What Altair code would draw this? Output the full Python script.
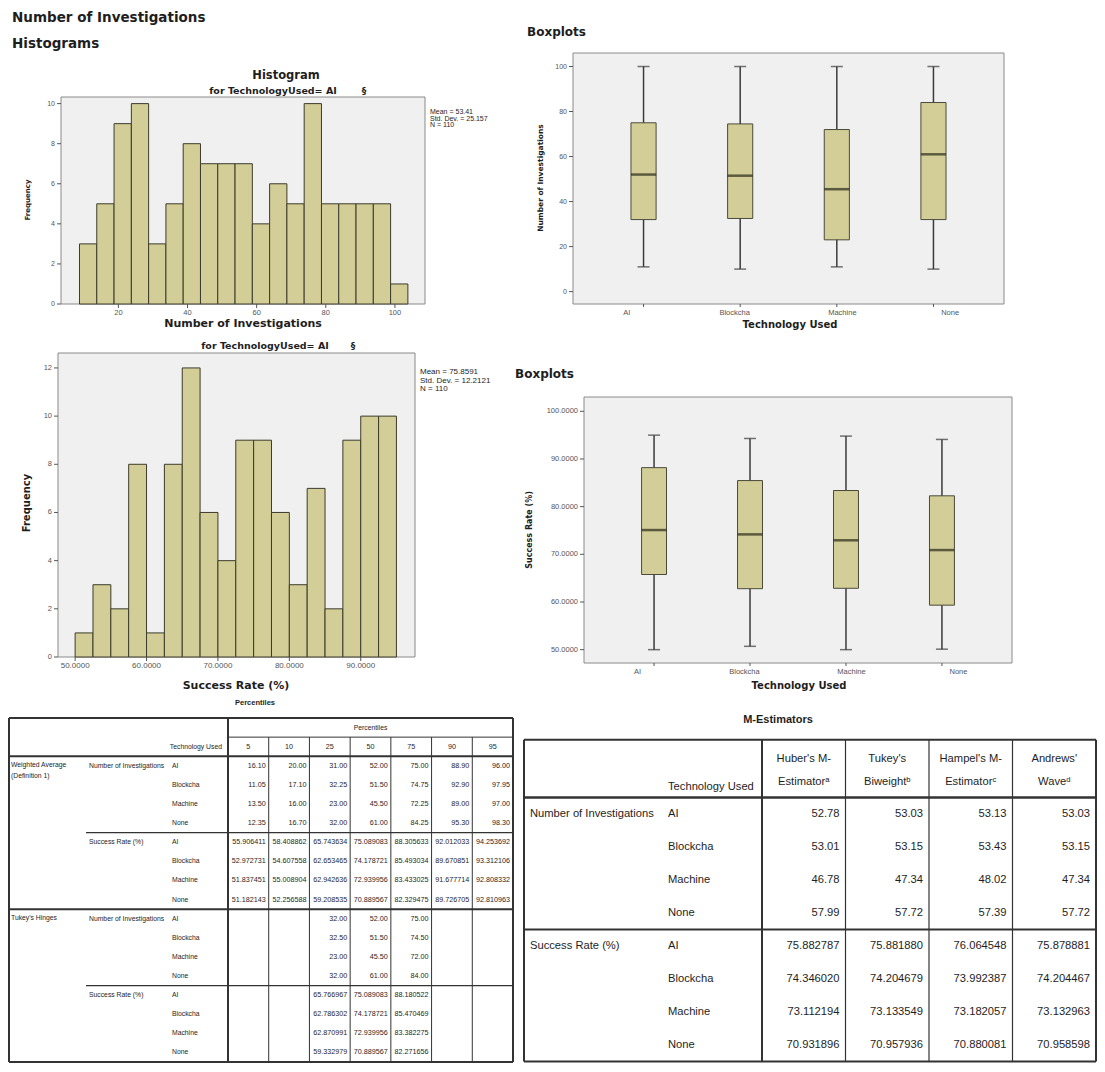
import altair as alt
import pandas as pd

# ------------------------------------------------------------------ data
TECH = ["AI", "Blockcha", "Machine", "None"]

H1_BIN_START = [8.75, 13.75, 18.75, 23.75, 28.75, 33.75, 38.75, 43.75, 48.75, 53.75,
                58.75, 63.75, 68.75, 73.75, 78.75, 83.75, 88.75, 93.75, 98.75]
H1_COUNT = [3, 5, 9, 10, 3, 5, 8, 7, 7, 7, 4, 6, 5, 10, 5, 5, 5, 5, 1]
H1_BIN_WIDTH = 5
H1_XTICKS = [20, 40, 60, 80, 100]
H1_XLABELS = ["20", "40", "60", "80", "100"]
H1_YTICKS = [0, 2, 4, 6, 8, 10]
H1_STATS = ["Mean = 53.41", "Std. Dev. = 25.157", "N = 110"]

H2_BIN_START = [50.0, 52.5, 55.0, 57.5, 60.0, 62.5, 65.0, 67.5, 70.0,
                72.5, 75.0, 77.5, 80.0, 82.5, 85.0, 87.5, 90.0, 92.5]
H2_COUNT = [1, 3, 2, 8, 1, 8, 12, 6, 4, 9, 9, 6, 3, 7, 2, 9, 10, 10]
H2_BIN_WIDTH = 2.5
H2_XTICKS = [50, 60, 70, 80, 90]
H2_XLABELS = ["50.0000", "60.0000", "70.0000", "80.0000", "90.0000"]
H2_YTICKS = [0, 2, 4, 6, 8, 10, 12]
H2_STATS = ["Mean = 75.8591", "Std. Dev. = 12.2121", "N = 110"]

B1_MIN = [11, 10, 11, 10]
B1_Q1 = [32.0, 32.5, 23.0, 32.0]
B1_MED = [52.0, 51.5, 45.5, 61.0]
B1_Q3 = [75.0, 74.5, 72.0, 84.0]
B1_MAX = [100, 100, 100, 100]
B1_YTICKS = [0, 20, 40, 60, 80, 100]
B1_YLABELS = ["0", "20", "40", "60", "80", "100"]

B2_MIN = [50.0, 50.7, 50.0, 50.1]
B2_Q1 = [65.766967, 62.786302, 62.870991, 59.332979]
B2_MED = [75.089083, 74.178721, 72.939956, 70.889567]
B2_Q3 = [88.180522, 85.470469, 83.382275, 82.271656]
B2_MAX = [95.0, 94.3, 94.8, 94.1]
B2_YTICKS = [50, 60, 70, 80, 90, 100]
B2_YLABELS = ["50.0000", "60.0000", "70.0000", "80.0000", "90.0000", "100.0000"]

PCT_HEAD = ["5", "10", "25", "50", "75", "90", "95"]
PCT_WA_NI = [
    [16.10, 20.00, 31.00, 52.00, 75.00, 88.90, 96.00],
    [11.05, 17.10, 32.25, 51.50, 74.75, 92.90, 97.95],
    [13.50, 16.00, 23.00, 45.50, 72.25, 89.00, 97.00],
    [12.35, 16.70, 32.00, 61.00, 84.25, 95.30, 98.30],
]
PCT_WA_SR = [
    [55.906411, 58.408862, 65.743634, 75.089083, 88.305633, 92.012033, 94.253692],
    [52.972731, 54.607558, 62.653465, 74.178721, 85.493034, 89.670851, 93.312106],
    [51.837451, 55.008904, 62.942636, 72.939956, 83.433025, 91.677714, 92.808332],
    [51.182143, 52.256588, 59.208535, 70.889567, 82.329475, 89.726705, 92.810963],
]
PCT_TH_NI = [
    [32.00, 52.00, 75.00],
    [32.50, 51.50, 74.50],
    [23.00, 45.50, 72.00],
    [32.00, 61.00, 84.00],
]
PCT_TH_SR = [
    [65.766967, 75.089083, 88.180522],
    [62.786302, 74.178721, 85.470469],
    [62.870991, 72.939956, 83.382275],
    [59.332979, 70.889567, 82.271656],
]

M_HEAD_1 = ["Huber's M-", "Tukey's", "Hampel's M-", "Andrews'"]
M_HEAD_2 = ["Estimator\u1d43", "Biweight\u1d47", "Estimator\u1d9c", "Wave\u1d48"]
M_NI = [
    [52.78, 53.03, 53.13, 53.03],
    [53.01, 53.15, 53.43, 53.15],
    [46.78, 47.34, 48.02, 47.34],
    [57.99, 57.72, 57.39, 57.72],
]
M_SR = [
    [75.882787, 75.881880, 76.064548, 75.878881],
    [74.346020, 74.204679, 73.992387, 74.204467],
    [73.112194, 73.133549, 73.182057, 73.132963],
    [70.931896, 70.957936, 70.880081, 70.958598],
]

# ------------------------------------------------------------------ style
OFF = 8
W, H = 1089, 1056
SANS = "Liberation Sans, Arial, sans-serif"
WIDE = "DejaVu Sans, Verdana, sans-serif"
TABLE = "Liberation Sans, Arial, sans-serif"
BAR_FILL = "#D3CE97"
BAR_EDGE = "#3C3B2C"
PLOT_BG = "#F0F0F0"
FRAME = "#8A8A8A"
INK = "#1E1E1E"
TICK_INK = "#555555"
LINE = "#333333"
PT_FS = 6.8    # left table label font size
PT_VFS = 7.2   # left table value font size
MT_FS = 11.2   # right table font size


def px(v):
    return v - OFF


def single(**kw):
    return pd.DataFrame({k: [v] for k, v in kw.items()})


def text_at(txt, x, y, size, font=SANS, weight="normal", align="left",
            baseline="middle", color=INK, angle=None):
    props = dict(align=align, baseline=baseline, font=font, fontSize=size,
                 fontWeight=weight, color=color)
    if angle is not None:
        props["angle"] = angle
    return alt.Chart(single(t=txt)).mark_text(**props).encode(
        text="t:N", x=alt.value(px(x)), y=alt.value(px(y)))


def histogram(starts, counts, width, xdom, ydom, box, xticks, xlabels, yticks,
              ytick_size, xtick_size, stats, stats_size, stats_lh, stats_dy):
    left, top, right, bottom = box
    xs = alt.Scale(domain=xdom, range=[px(left), px(right)], nice=False, zero=False)
    ys = alt.Scale(domain=ydom, range=[px(bottom), px(top)], nice=False, zero=False)

    def X(f):
        return alt.X(f, scale=xs, axis=None)

    def Y(f):
        return alt.Y(f, scale=ys, axis=None)

    out = []
    out.append(alt.Chart(single(xa=xdom[0], xb=xdom[1], ya=ydom[0], yb=ydom[1]))
               .mark_rect(fill=PLOT_BG, stroke=FRAME, strokeWidth=1)
               .encode(x=X("xa:Q"), x2="xb", y=Y("ya:Q"), y2="yb"))
    bd = pd.DataFrame({"lo": starts, "n": counts})
    bd["hi"] = bd["lo"] + width
    bd["base"] = 0
    out.append(alt.Chart(bd).mark_rect(fill=BAR_FILL, stroke=BAR_EDGE, strokeWidth=1)
               .encode(x=X("lo:Q"), x2="hi", y=Y("base:Q"), y2="n"))
    yt = pd.DataFrame({"v": yticks, "lab": [str(v) for v in yticks]})
    yt["xa"] = xdom[0]
    out.append(alt.Chart(yt).mark_rule(color=TICK_INK, strokeWidth=1, x2Offset=-4)
               .encode(x=X("xa:Q"), x2="xa", y=Y("v:Q")))
    out.append(alt.Chart(yt).mark_text(align="right", baseline="middle", dx=-6, font=SANS,
                                       fontSize=ytick_size, color=TICK_INK)
               .encode(x=X("xa:Q"), y=Y("v:Q"), text="lab:N"))
    xt = pd.DataFrame({"v": xticks, "lab": xlabels})
    xt["ya"] = ydom[0]
    out.append(alt.Chart(xt).mark_rule(color=TICK_INK, strokeWidth=1, y2Offset=4)
               .encode(x=X("v:Q"), y=Y("ya:Q"), y2="ya"))
    out.append(alt.Chart(xt).mark_text(align="center", baseline="top", dy=5, font=SANS,
                                       fontSize=xtick_size, color=TICK_INK)
               .encode(x=X("v:Q"), y=Y("ya:Q"), text="lab:N"))
    out.append(alt.Chart(single(xb=xdom[1], yb=ydom[1], t="\n".join(stats)))
               .mark_text(align="left", baseline="top", dx=5, dy=stats_dy, lineBreak="\n",
                          lineHeight=stats_lh, font=SANS, fontSize=stats_size, color=INK)
               .encode(x=X("xb:Q"), y=Y("yb:Q"), text="t:N"))
    return out


def boxplot(mins, q1, med, q3, maxs, ydom, box, yticks, ylabels, ytick_size, xtick_size):
    left, top, right, bottom = box
    xs = alt.Scale(domain=TECH, range=[px(left), px(right)], paddingInner=0.74, paddingOuter=0.6)
    ys = alt.Scale(domain=ydom, range=[px(bottom), px(top)], nice=False, zero=False)
    step = (right - left) / (4 - 0.74 + 2 * 0.6)
    bw = step * 0.26

    def X():
        return alt.X("tech:N", scale=xs, axis=None, sort=TECH)

    def Y(f):
        return alt.Y(f, scale=ys, axis=None)

    d = pd.DataFrame({"tech": TECH, "lo": mins, "q1": q1, "med": med, "q3": q3, "hi": maxs})
    d["ya"] = ydom[0]
    out = []
    out.append(alt.Chart(single(ya=ydom[0], yb=ydom[1]))
               .mark_rect(fill=PLOT_BG, stroke=FRAME, strokeWidth=1)
               .encode(x=alt.value(px(left)), x2=alt.value(px(right)), y=Y("ya:Q"), y2="yb"))
    out.append(alt.Chart(d).mark_rule(color="#3A3A3A", strokeWidth=1.5)
               .encode(x=X(), y=Y("lo:Q"), y2="hi"))
    out.append(alt.Chart(d).mark_bar(fill=BAR_FILL, stroke="#4A4A3A", strokeWidth=1)
               .encode(x=X(), y=Y("q1:Q"), y2="q3"))
    out.append(alt.Chart(d).mark_tick(color="#2A2A18", thickness=2.5, size=bw)
               .encode(x=X(), y=Y("med:Q")))
    out.append(alt.Chart(d).mark_tick(color="#3A3A3A", thickness=1.5, size=12)
               .encode(x=X(), y=Y("lo:Q")))
    out.append(alt.Chart(d).mark_tick(color="#3A3A3A", thickness=1.5, size=12)
               .encode(x=X(), y=Y("hi:Q")))
    out.append(alt.Chart(d).mark_rule(color=TICK_INK, strokeWidth=1, y2Offset=3)
               .encode(x=X(), y=Y("ya:Q"), y2="ya"))
    out.append(alt.Chart(d).mark_text(align="center", baseline="top", dy=5, font=SANS,
                                      fontSize=xtick_size, color=TICK_INK)
               .encode(x=X(), y=Y("ya:Q"), text="tech:N"))
    yt = pd.DataFrame({"v": yticks, "lab": ylabels})
    out.append(alt.Chart(yt).mark_rule(color=TICK_INK, strokeWidth=1)
               .encode(x=alt.value(px(left) - 4), x2=alt.value(px(left)), y=Y("v:Q")))
    out.append(alt.Chart(yt).mark_text(align="right", baseline="middle", font=SANS,
                                       fontSize=ytick_size, color=TICK_INK)
               .encode(x=alt.value(px(left) - 6), y=Y("v:Q"), text="lab:N"))
    return out


layers = []

# ---------------- top-left: histogram of Number of Investigations
layers.append(text_at("Number of Investigations", 12, 18, 13.5, font=WIDE, weight="bold"))
layers.append(text_at("Histograms", 12, 44, 13.5, font=WIDE, weight="bold"))
layers.append(text_at("Histogram", 286, 76, 11.5, font=WIDE, weight="bold", align="center"))
layers.append(text_at("for TechnologyUsed= AI", 273, 91, 9.5, font=WIDE, weight="bold", align="center"))
layers.append(text_at("\u00a7", 364, 91, 9, font=WIDE, weight="bold", align="center"))
layers += histogram(H1_BIN_START, H1_COUNT, H1_BIN_WIDTH, [3.4, 108.7], [0, 10.33],
                    (61, 97, 425, 304), H1_XTICKS, H1_XLABELS, H1_YTICKS, 7, 7.5,
                    H1_STATS, 7, 6.5, 11)
layers.append(text_at("Number of Investigations", 243, 324, 11, font=WIDE, weight="bold", align="center"))
layers.append(text_at("Frequency", 28, 200, 7, font=WIDE, weight="bold", align="center", angle=270))

# ---------------- middle-left: histogram of Success Rate
layers.append(text_at("for TechnologyUsed= AI", 265, 346, 9.5, font=WIDE, weight="bold", align="center"))
layers.append(text_at("\u00a7", 353, 346, 9, font=WIDE, weight="bold", align="center"))
layers += histogram(H2_BIN_START, H2_COUNT, H2_BIN_WIDTH, [47.6, 97.6], [0, 12.62],
                    (58, 353, 415, 657), H2_XTICKS, H2_XLABELS, H2_YTICKS, 7.5, 8,
                    H2_STATS, 8, 8.5, 15)
layers.append(text_at("Success Rate (%)", 236, 686, 11, font=WIDE, weight="bold", align="center"))
layers.append(text_at("Frequency", 27, 503, 10, font=WIDE, weight="bold", align="center", angle=270))

# ---------------- top-right: boxplots Number of Investigations
layers.append(text_at("Boxplots", 527, 32, 12, font=WIDE, weight="bold"))
layers += boxplot(B1_MIN, B1_Q1, B1_MED, B1_Q3, B1_MAX, [-5.5, 106], (573, 53, 1004, 304),
                  B1_YTICKS, B1_YLABELS, 7, 7.5)
layers.append(text_at("Technology Used", 790, 325, 10, font=WIDE, weight="bold", align="center"))
layers.append(text_at("Number of Investigations", 541, 178, 7.5, font=WIDE, weight="bold",
                      align="center", angle=270))

# ---------------- middle-right: boxplots Success Rate
layers.append(text_at("Boxplots", 515, 374, 12, font=WIDE, weight="bold"))
layers += boxplot(B2_MIN, B2_Q1, B2_MED, B2_Q3, B2_MAX, [47.2, 103], (584, 397, 1012, 663),
                  B2_YTICKS, B2_YLABELS, 7.5, 7.5)
layers.append(text_at("Technology Used", 799, 686, 10, font=WIDE, weight="bold", align="center"))
layers.append(text_at("Success Rate (%)", 530, 530, 8, font=WIDE, weight="bold",
                      align="center", angle=270))


# ---------------- tables
def table_lines(lines, xs, ys):
    df = pd.DataFrame(lines, columns=["xa", "xb", "ya", "yb", "w"])
    return alt.Chart(df).mark_rule(color=LINE).encode(
        x=alt.X("xa:Q", scale=xs, axis=None), x2="xb",
        y=alt.Y("ya:Q", scale=ys, axis=None), y2="yb",
        strokeWidth=alt.StrokeWidth("w:Q", scale=None))


# Percentiles table (bottom-left)
PT_X0, PT_X7, PT_LEFT = 228, 513, 9
PT_R0, PT_STEP = 765.8, 19.11
PT_CW = (PT_X7 - PT_X0) / 7
pxs = alt.Scale(domain=[0, 7], range=[px(PT_X0), px(PT_X7)], nice=False, zero=False)
pys = alt.Scale(domain=[0, 15], range=[px(PT_R0), px(PT_R0 + 15 * PT_STEP)], nice=False, zero=False)


def pcol(p):
    return (p - PT_X0) / PT_CW


layers.append(text_at("Percentiles", 255, 703, 7.5, font=TABLE, weight="bold", align="center"))
p_lines = [
    (pcol(PT_LEFT), 7, -2.5, -2.5, 2),
    (pcol(PT_LEFT), 7, 15.5, 15.5, 2),
    (pcol(PT_LEFT), pcol(PT_LEFT), -2.5, 15.5, 2),
    (7, 7, -2.5, 15.5, 2),
    (0, 7, -1.5, -1.5, 1),
    (pcol(PT_LEFT), 7, -0.5, -0.5, 2),
    (pcol(86), 7, 3.5, 3.5, 1.3),
    (pcol(PT_LEFT), 7, 7.5, 7.5, 2),
    (pcol(86), 7, 11.5, 11.5, 1.3),
    (0, 0, -2.5, 15.5, 2),
] + [(c, c, -1.5, 15.5, 1) for c in range(1, 7)]
layers.append(table_lines(p_lines, pxs, pys))

p_cells = []
for b, (block, cols, fmt) in enumerate([
        (PCT_WA_NI, list(range(7)), "{:.2f}"), (PCT_WA_SR, list(range(7)), "{:.6f}"),
        (PCT_TH_NI, [2, 3, 4], "{:.2f}"), (PCT_TH_SR, [2, 3, 4], "{:.6f}")]):
    for i, row in enumerate(block):
        for c, v in zip(cols, row):
            p_cells.append({"r": b * 4 + i, "c": c + 1, "v": fmt.format(v)})
layers.append(alt.Chart(pd.DataFrame(p_cells)).mark_text(
    align="right", baseline="middle", dx=-3, font=TABLE, fontSize=PT_VFS, color=INK).encode(
    x=alt.X("c:Q", scale=pxs, axis=None), y=alt.Y("r:Q", scale=pys, axis=None), text="v:N"))

p_head = pd.DataFrame({"c": [i + 0.5 for i in range(7)], "lab": PCT_HEAD, "r": -1})
layers.append(alt.Chart(p_head).mark_text(align="center", baseline="middle", font=TABLE,
                                          fontSize=PT_VFS, color=INK).encode(
    x=alt.X("c:Q", scale=pxs, axis=None), y=alt.Y("r:Q", scale=pys, axis=None), text="lab:N"))
layers.append(alt.Chart(single(c=3.5, r=-2, lab="Percentiles")).mark_text(
    align="center", baseline="middle", font=TABLE, fontSize=PT_FS, color=INK).encode(
    x=alt.X("c:Q", scale=pxs, axis=None), y=alt.Y("r:Q", scale=pys, axis=None), text="lab:N"))
layers.append(alt.Chart(single(r=-1, lab="Technology Used")).mark_text(
    align="right", baseline="middle", font=TABLE, fontSize=PT_FS, color=INK).encode(
    x=alt.value(px(222)), y=alt.Y("r:Q", scale=pys, axis=None), text="lab:N"))

p_tech = pd.DataFrame({"r": list(range(16)), "lab": TECH * 4})
layers.append(alt.Chart(p_tech).mark_text(align="left", baseline="middle", font=TABLE,
                                          fontSize=PT_FS, color=INK).encode(
    x=alt.value(px(172)), y=alt.Y("r:Q", scale=pys, axis=None), text="lab:N"))
p_var = pd.DataFrame({"r": [0, 4, 8, 12],
                      "lab": ["Number of Investigations", "Success Rate (%)",
                              "Number of Investigations", "Success Rate (%)"]})
layers.append(alt.Chart(p_var).mark_text(align="left", baseline="middle", font=TABLE,
                                         fontSize=PT_FS, color=INK).encode(
    x=alt.value(px(89)), y=alt.Y("r:Q", scale=pys, axis=None), text="lab:N"))
p_grp = pd.DataFrame({"r": [0, 8], "lab": ["Weighted Average\n(Definition 1)", "Tukey's Hinges"]})
layers.append(alt.Chart(p_grp).mark_text(align="left", baseline="top", dy=-4, lineBreak="\n",
                                         lineHeight=11.5, font=TABLE, fontSize=PT_FS, color=INK).encode(
    x=alt.value(px(11)), y=alt.Y("r:Q", scale=pys, axis=None), text="lab:N"))

# M-Estimators table (bottom-right)
MT_X0, MT_X4, MT_LEFT = 762, 1096, 524
MT_R0, MT_STEP = 814, 33
MT_CW = (MT_X4 - MT_X0) / 4
mxs = alt.Scale(domain=[0, 4], range=[px(MT_X0), px(MT_X4)], nice=False, zero=False)
mys = alt.Scale(domain=[0, 7], range=[px(MT_R0), px(MT_R0 + 7 * MT_STEP)], nice=False, zero=False)


def mcol(p):
    return (p - MT_X0) / MT_CW


layers.append(text_at("M-Estimators", 778, 720, 11, font=TABLE, weight="bold", align="center"))
m_lines = [
    (mcol(MT_LEFT), 4, -2.25, -2.25, 2),
    (mcol(MT_LEFT), 4, 7.5, 7.5, 2),
    (mcol(MT_LEFT), mcol(MT_LEFT), -2.25, 7.5, 2),
    (4, 4, -2.25, 7.5, 2),
    (mcol(MT_LEFT), 4, -0.5, -0.5, 2.5),
    (mcol(MT_LEFT), 4, 3.5, 3.5, 2),
    (0, 0, -2.25, 7.5, 2),
] + [(c, c, -2.25, 7.5, 1.2) for c in range(1, 4)]
layers.append(table_lines(m_lines, mxs, mys))

m_cells = []
for b, (block, fmt) in enumerate([(M_NI, "{:.2f}"), (M_SR, "{:.6f}")]):
    for i, row in enumerate(block):
        for c, v in enumerate(row):
            m_cells.append({"r": b * 4 + i, "c": c + 1, "v": fmt.format(v)})
layers.append(alt.Chart(pd.DataFrame(m_cells)).mark_text(
    align="right", baseline="middle", dx=-6, font=TABLE, fontSize=MT_FS, color=INK).encode(
    x=alt.X("c:Q", scale=mxs, axis=None), y=alt.Y("r:Q", scale=mys, axis=None), text="v:N"))
m_head = pd.DataFrame({"c": [i + 0.5 for i in range(4)],
                       "lab": [a + "\n" + b for a, b in zip(M_HEAD_1, M_HEAD_2)], "r": -1.68})
layers.append(alt.Chart(m_head).mark_text(align="center", baseline="middle", lineBreak="\n",
                                          lineHeight=23, font=TABLE, fontSize=MT_FS, color=INK).encode(
    x=alt.X("c:Q", scale=mxs, axis=None), y=alt.Y("r:Q", scale=mys, axis=None), text="lab:N"))
layers.append(alt.Chart(single(r=-0.82, lab="Technology Used")).mark_text(
    align="left", baseline="middle", font=TABLE, fontSize=MT_FS, color=INK).encode(
    x=alt.value(px(668)), y=alt.Y("r:Q", scale=mys, axis=None), text="lab:N"))
m_tech = pd.DataFrame({"r": list(range(8)), "lab": TECH * 2})
layers.append(alt.Chart(m_tech).mark_text(align="left", baseline="middle", font=TABLE,
                                          fontSize=MT_FS, color=INK).encode(
    x=alt.value(px(668)), y=alt.Y("r:Q", scale=mys, axis=None), text="lab:N"))
m_var = pd.DataFrame({"r": [0, 4], "lab": ["Number of Investigations", "Success Rate (%)"]})
layers.append(alt.Chart(m_var).mark_text(align="left", baseline="middle", font=TABLE,
                                         fontSize=MT_FS, color=INK).encode(
    x=alt.value(px(530)), y=alt.Y("r:Q", scale=mys, axis=None), text="lab:N"))

chart = alt.layer(*layers).resolve_scale(x="independent", y="independent").properties(
    width=W, height=H, padding=0, background="white",
    autosize=alt.AutoSizeParams(type="none"),
).configure_view(stroke="transparent")

chart.save("out.html", embed_options={"renderer": "svg", "actions": False})
